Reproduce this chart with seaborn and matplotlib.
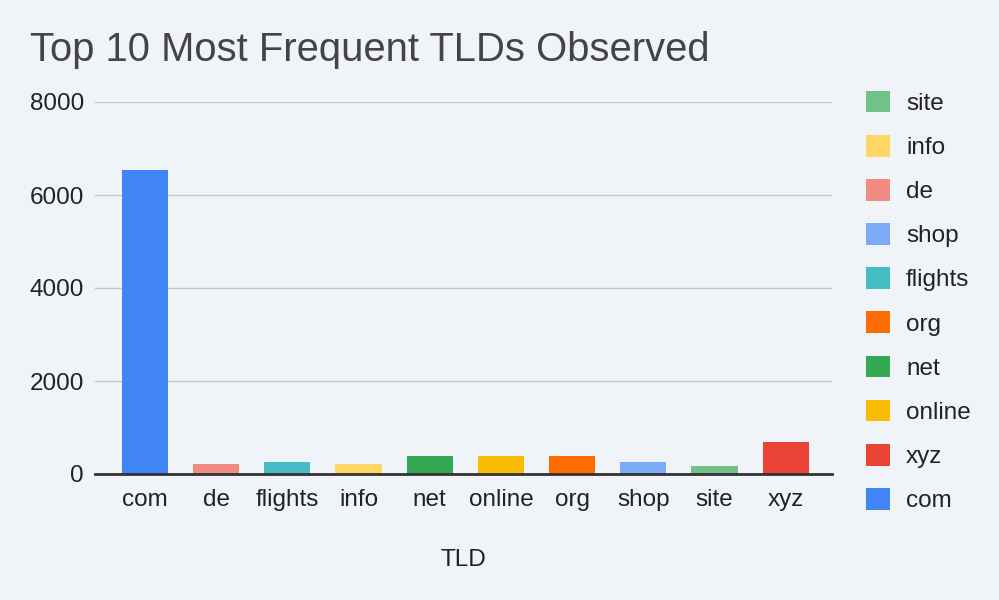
import pandas as pd
import seaborn as sns
import matplotlib.pyplot as plt
from matplotlib.patches import Patch

# datos
tlds = ['com', 'de', 'flights', 'info', 'net', 'online', 'org', 'shop', 'site', 'xyz']
counts = [6540, 215, 258, 215, 387, 387, 387, 258, 172, 688]
colores = ['#4285F4', '#F28B82', '#46BDC6', '#FDD663', '#34A853',
           '#FBBC04', '#FF6D01', '#7BAAF7', '#71C287', '#EA4335']
orden_leyenda = ['site', 'info', 'de', 'shop', 'flights', 'org', 'net', 'online', 'xyz', 'com']

df = pd.DataFrame({'TLD': tlds, 'Count': counts})
paleta = dict(zip(tlds, colores))

bg = '#F0F3F8'
sns.set_theme(style='white')
plt.rcParams['font.family'] = ['Liberation Sans', 'DejaVu Sans']

fig = plt.figure(figsize=(9.99, 6), dpi=100, facecolor=bg)
ax = fig.add_axes([95 / 999, 1 - 474 / 600, 737 / 999, 372 / 600])
ax.set_facecolor(bg)

sns.barplot(data=df, x='TLD', y='Count', hue='TLD', palette=paleta,
            width=0.65, saturation=1, linewidth=0, legend=False, ax=ax, zorder=3)

ax.set_xlim(-0.70, 9.65)
ax.set_ylim(0, 8000)
ax.set_yticks([0, 2000, 4000, 6000, 8000])
ax.yaxis.grid(True, color='#C6C6C6', linewidth=1)
ax.set_axisbelow(True)
for s in ['top', 'right', 'left']:
    ax.spines[s].set_visible(False)
ax.spines['bottom'].set_color('#333333')
ax.spines['bottom'].set_linewidth(2)
ax.spines['bottom'].set_zorder(4)
ax.tick_params(axis='both', length=0, labelsize=17.5, colors='#222222')
ax.tick_params(axis='x', pad=11)
ax.tick_params(axis='y', pad=8)
ax.set_ylabel('')
ax.set_xlabel('TLD', fontsize=17.5, color='#222222', labelpad=27)

fig.text(30 / 999, 1 - 50 / 600, 'Top 10 Most Frequent TLDs Observed',
         fontsize=28.8, color='#444444', va='center', ha='left')

handles = [Patch(facecolor=paleta[t], edgecolor='none') for t in orden_leyenda]
leg = fig.legend(handles, orden_leyenda, loc='upper left',
                 bbox_to_anchor=(856 / 999, 1 - 81 / 600), frameon=False,
                 fontsize=17.5, handlelength=1.0, handleheight=1.0,
                 handletextpad=0.66, labelspacing=0.82, borderaxespad=0)
for t in leg.get_texts():
    t.set_color('#222222')

fig.savefig('out.png', dpi=100, facecolor=bg)
